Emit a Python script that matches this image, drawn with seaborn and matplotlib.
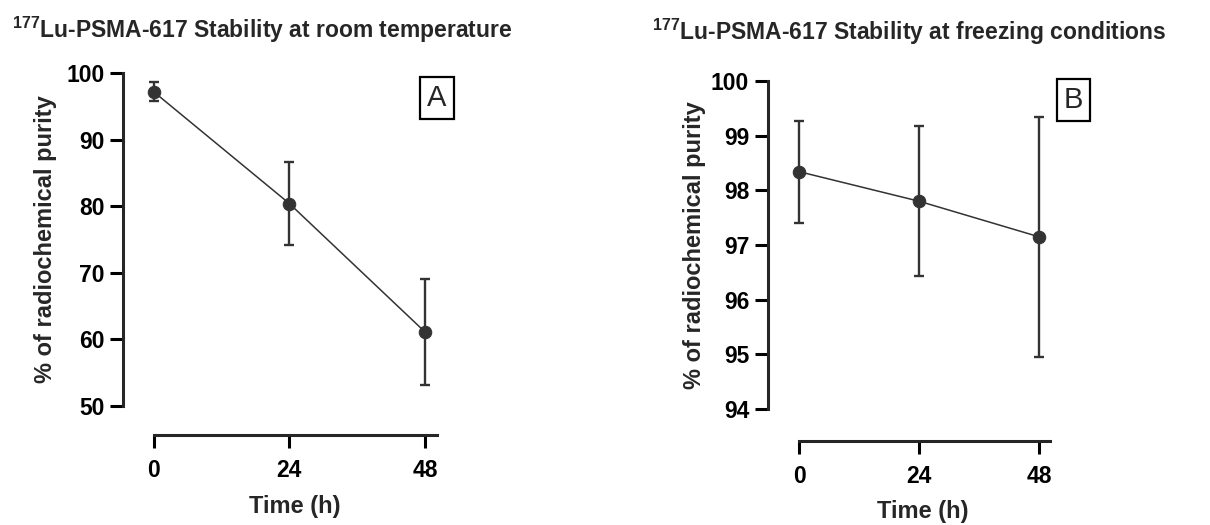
import numpy as np
import pandas as pd
import matplotlib
matplotlib.use("Agg")
import matplotlib.pyplot as plt
import seaborn as sns

sns.set_style("ticks")
plt.rcParams['font.family'] = ['Liberation Sans', 'DejaVu Sans']
plt.rcParams['mathtext.fontset'] = 'custom'
plt.rcParams['mathtext.rm'] = 'Liberation Sans'
plt.rcParams['mathtext.bf'] = 'Liberation Sans:bold'

# datos
time_h = [0, 24, 48]
room_mean = [97.2, 80.4, 61.1]
room_err = [1.4, 6.2, 8.0]
freeze_mean = [98.34, 97.80, 97.15]
freeze_err = [0.93, 1.37, 2.2]

titles = [r"$^{\bf 177}$Lu-PSMA-617 Stability at room temperature",
          r"$^{\bf 177}$Lu-PSMA-617 Stability at freezing conditions"]
panel_labels = ["A", "B"]

W, H = 1210, 525
fig = plt.figure(figsize=(12.1, 5.25), dpi=100)

# posiciones en pixeles: left, right, top, bottom
boxes = [(123, 437, 73, 406), (768, 1050, 81, 409)]
xlims = [(-5.4, 50.1), (-6.3, 50.2)]
ylims = [(50, 100), (94, 100)]
yticks = [np.arange(50, 101, 10), np.arange(94, 101, 1)]
outward = [29, 32]
label_box_pos = [(1.0, 0.925), (1.083, 0.943)]
ylab_x = [-0.248, -0.26]
xlab_y = [-0.303, -0.3125]

means = [room_mean, freeze_mean]
errs = [room_err, freeze_err]
col = "#333333"

for i in range(2):
    l, r, t, b = boxes[i]
    ax = fig.add_axes([l / W, 1 - b / H, (r - l) / W, (b - t) / H])
    df = pd.DataFrame({"Time": time_h, "Purity": means[i]})
    ax.errorbar(df["Time"], df["Purity"], yerr=errs[i], fmt="none",
                ecolor=col, elinewidth=1.7, capsize=3.7, capthick=1.7, zorder=2)
    sns.lineplot(data=df, x="Time", y="Purity", ax=ax, color=col, lw=1.1,
                 marker="o", markersize=9, markeredgecolor=col, zorder=3)
    ax.set_xlim(*xlims[i])
    ax.set_ylim(*ylims[i])
    ax.set_xticks(time_h)
    ax.set_yticks(yticks[i])
    for s in ["top", "right"]:
        ax.spines[s].set_visible(False)
    ax.spines["left"].set_linewidth(2.2)
    ax.spines["bottom"].set_linewidth(2.2)
    ax.spines["bottom"].set_position(("outward", outward[i] * 0.72))
    ax.spines["bottom"].set_bounds(0, xlims[i][1])
    ax.tick_params(axis="both", width=2.2, length=9.5, color="black",
                   labelsize=16.5, labelcolor="black")
    ax.tick_params(axis="x", pad=8)
    ax.tick_params(axis="y", pad=4)
    for lab in ax.get_xticklabels() + ax.get_yticklabels():
        lab.set_fontweight("bold")
    ax.set_ylabel("% of radiochemical purity", fontsize=17, fontweight="bold")
    ax.set_xlabel("Time (h)", fontsize=17, fontweight="bold")
    ax.yaxis.set_label_coords(ylab_x[i], 0.5)
    ax.xaxis.set_label_coords(0.548, xlab_y[i])
    ax.xaxis.label.set_va("center")
    ax.yaxis.label.set_va("center")
    ax.text(*label_box_pos[i], panel_labels[i], transform=ax.transAxes,
            ha="center", va="center", fontsize=21,
            bbox=dict(boxstyle="square,pad=0.24", fc="white", ec="black", lw=1.6))

fig.text(12 / W, 1 - 30 / H, titles[0], fontsize=16.5, fontweight="bold", va="center")
fig.text(652 / W, 1 - 32 / H, titles[1], fontsize=16.5, fontweight="bold", va="center")

fig.savefig("out.png", dpi=100)
